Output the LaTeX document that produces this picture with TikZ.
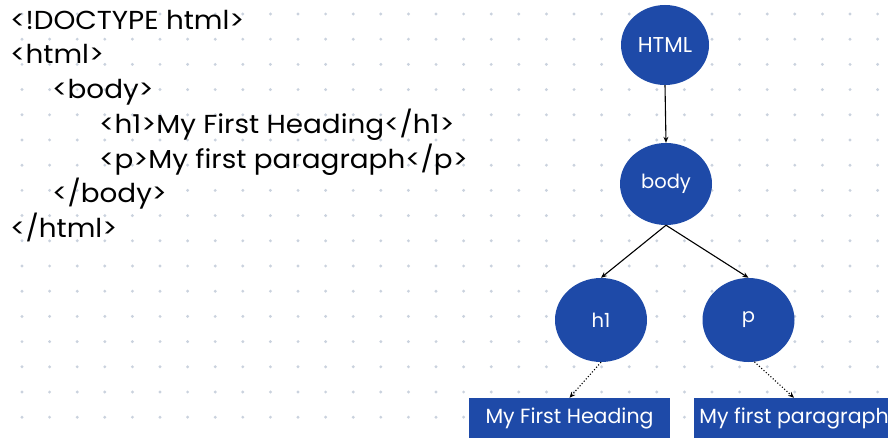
\documentclass[tikz,border=0pt]{standalone}
\usepackage{fontspec}
\setmainfont{Poppins}
\newfontfamily\codefont[FakeStretch=1.07]{Poppins}
\usetikzlibrary{shapes.geometric,arrows.meta}
\definecolor{treeblue}{RGB}{30,74,168}
\definecolor{griddot}{RGB}{202,210,222}
\tikzset{
  codeline/.style={anchor=base west, inner sep=0pt, font=\codefont\fontsize{26}{30}\selectfont},
  treenode/.style={ellipse, fill=treeblue, text=white, inner sep=0pt,
    minimum width=92pt, minimum height=84pt, font=\fontsize{19.5}{22}\selectfont},
  leafbox/.style={rectangle, fill=treeblue, text=white, inner sep=0pt,
    minimum width=201pt, minimum height=40pt, font=\fontsize{20.5}{24}\selectfont},
  link/.style={draw=black, line width=1.1pt, -{Stealth[length=6pt,width=5pt]}},
  weaklink/.style={draw=black, line width=1.1pt, dotted, -{Stealth[length=6pt,width=5pt]}}
}
\begin{document}
\begin{tikzpicture}[x=1pt,y=-1pt]
  \useasboundingbox (0,0) rectangle (888,438);
  \clip (0,0) rectangle (888,438);
  \fill[white] (0,0) rectangle (888,438);
  % dotted background grid
  \foreach \i in {0,...,31}{
    \foreach \j in {0,...,16}{
      \fill[griddot] (22+27.6*\i, 14+25.2*\j) circle[radius=1.6];
    }
  }
  % source listing
  \node[codeline] (l1) at (10,29.3) {<!DOCTYPE html>};
  \node[codeline] (l2) at (10,64) {<html>};
  \node[codeline] (l3) at (52,98.7) {<body>};
  \node[codeline] (l4) at (99,133.4) {<h1>My First Heading</h1>};
  \node[codeline] (l5) at (99,168.1) {<p>My first paragraph</p>};
  \node[codeline] (l6) at (52,202.8) {</body>};
  \node[codeline] (l7) at (10,237.5) {</html>};
  % document tree
  \node[treenode, minimum width=88pt, minimum height=80pt, font=\fontsize{21.5}{24}\selectfont] (html) at (665,45) {HTML};
  \node[treenode, minimum height=82pt] (body) at (666,184) {body};
  \node[treenode] (h1) at (601,320) {h1};
  \node[treenode] (p) at (748.5,320) {p};
  \node[leafbox] (hbox) at (569.5,418) {My First Heading};
  \node[leafbox] (pbox) at (794,418) {My first paragraph};
  \draw[link] (html.south) -- (body.north);
  \draw[link] (body.south) -- (h1.north);
  \draw[link] (body.south) -- (p.north);
  \draw[weaklink] (h1.south) -- (hbox.north);
  \draw[weaklink] (p.-82) -- (pbox.north);
\end{tikzpicture}
\end{document}
